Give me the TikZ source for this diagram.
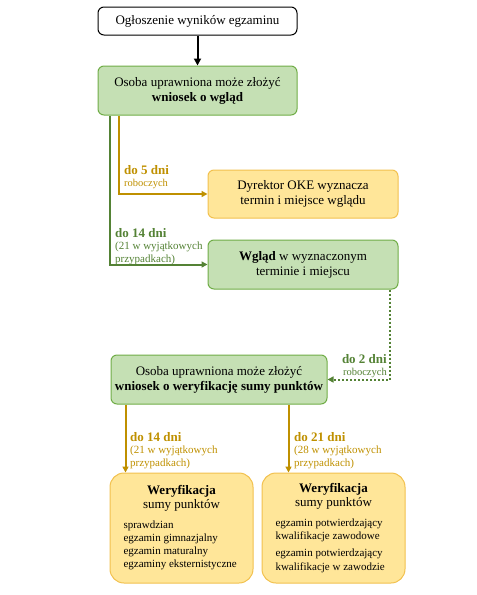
\documentclass[tikz,border=0pt]{standalone}
\usepackage{fontspec}
\setmainfont{Liberation Serif}
\usetikzlibrary{arrows.meta}
\definecolor{zielfill}{HTML}{C5E0B4}
\definecolor{zieldraw}{HTML}{70AD47}
\definecolor{zielline}{HTML}{548235}
\definecolor{zolfill}{HTML}{FFE699}
\definecolor{zoldraw}{HTML}{F2C14E}
\definecolor{zolline}{HTML}{BF9000}
\tikzset{
  box/.style={draw, rounded corners=6pt, line width=1pt, align=center, inner sep=2pt,
    font=\fontsize{13}{15}\selectfont},
  whitebox/.style={box, fill=white, draw=black},
  greenbox/.style={box, fill=zielfill, draw=zieldraw},
  yellowbox/.style={box, fill=zolfill, draw=zoldraw},
  bigbox/.style={yellowbox, rounded corners=14pt, minimum width=143pt, minimum height=110pt},
  tip/.style={-{Triangle[length=6pt,width=6pt]}},
  goldline/.style={tip, draw=zolline, line width=2pt},
  greenline/.style={tip, draw=zielline, line width=2pt},
  lbl/.style={align=left, inner sep=0pt, font=\fontsize{11}{12.5}\selectfont}
}
\begin{document}
\begin{tikzpicture}[x=1pt,y=-1pt]
  \useasboundingbox (0,0) rectangle (477,595);

  % Boxes
  \node[whitebox, minimum width=199pt, minimum height=28pt] (ogloszenie) at (197.5,21) {Ogłoszenie wyników egzaminu};
  \node[greenbox, minimum width=199pt, minimum height=49pt] (wniosek) at (197.5,90.5) {Osoba uprawniona może złożyć\\\textbf{wniosek o wgląd}};
  \node[yellowbox, minimum width=190pt, minimum height=48pt] (dyrektor) at (303,194) {Dyrektor OKE wyznacza\\termin i miejsce wglądu};
  \node[greenbox, minimum width=190pt, minimum height=49pt] (wglad) at (303,264.5) {\textbf{Wgląd} w wyznaczonym\\terminie i miejscu};
  \node[greenbox, minimum width=216pt, minimum height=49pt] (weryf) at (219,379.5) {Osoba uprawniona może złożyć\\\textbf{wniosek o weryfikację sumy punktów}};
  \node[bigbox] (wersp) at (181.5,528) {\begin{minipage}{116pt}\centering
    {\fontsize{13}{14}\selectfont\bfseries Weryfikacja\\ \mdseries sumy punktów\par}\vspace{6pt}
    \raggedright\fontsize{11}{13.3}\selectfont
    sprawdzian\\egzamin gimnazjalny\\egzamin maturalny\\egzaminy eksternistyczne\end{minipage}};
  \node[bigbox] (werzaw) at (333.5,528) {\begin{minipage}{116pt}\centering
    {\fontsize{13}{14}\selectfont\bfseries Weryfikacja\\ \mdseries sumy punktów\par}\vspace{6pt}
    \raggedright\fontsize{11}{13.3}\selectfont
    egzamin potwierdzający\\kwalifikacje zawodowe\par\vspace{4pt}
    egzamin potwierdzający\\kwalifikacje w zawodzie\end{minipage}};

  % Connectors
  \draw[-{Triangle[length=7pt,width=7pt]}, line width=2pt] (ogloszenie) -- (wniosek);
  \draw[goldline] ([xshift=21pt]wniosek.south west) |- (dyrektor.west);
  \draw[greenline] ([xshift=12pt]wniosek.south west) |- (wglad.west);
  \draw[greenline, dash pattern=on 2pt off 2pt] ([xshift=-9pt]wglad.south east) |- (weryf.east);
  \coordinate (lewy) at ([xshift=15pt]weryf.south west);
  \coordinate (prawy) at ([xshift=178pt]weryf.south west);
  \draw[goldline] (lewy) -- (lewy |- wersp.north);
  \draw[goldline] (prawy) -- (prawy |- werzaw.north);

  % Labels (anchored at the last line)
  \node[lbl, text=zolline, anchor=base west] (t5) at (124,186) {{\fontsize{13}{13}\selectfont\bfseries do 5 dni}\\[-1pt]{\fontsize{10.5}{12}\selectfont roboczych}};
  \node[lbl, text=zielline, anchor=base west] (t14) at (115,262) {{\fontsize{13}{13}\selectfont\bfseries do 14 dni}\\(21 w wyjątkowych\\przypadkach)};
  \node[lbl, text=zielline, anchor=base east, align=right] (t2) at (387,375) {{\fontsize{13}{13}\selectfont\bfseries do 2 dni}\\[-1pt]{\fontsize{10.5}{12}\selectfont roboczych}};
  \node[lbl, text=zolline, anchor=base west] (t14b) at (130,466) {{\fontsize{13}{13}\selectfont\bfseries do 14 dni}\\(21 w wyjątkowych\\przypadkach)};
  \node[lbl, text=zolline, anchor=base west] (t21) at (294,466) {{\fontsize{13}{13}\selectfont\bfseries do 21 dni}\\(28 w wyjątkowych\\przypadkach)};
\end{tikzpicture}
\end{document}
